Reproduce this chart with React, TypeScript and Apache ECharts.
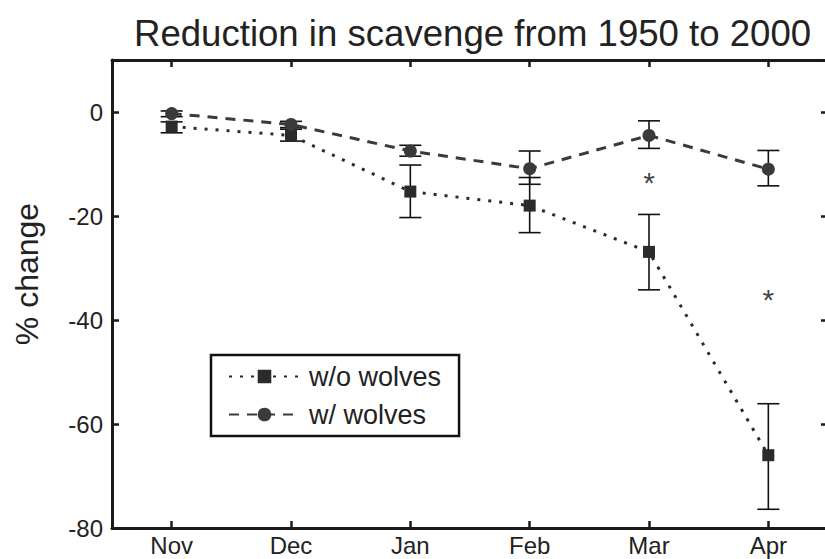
import React, { useEffect, useRef } from "react";
import * as echarts from "echarts";

const months = ["Nov", "Dec", "Jan", "Feb", "Mar", "Apr"];
const withoutWolves = [-2.8, -4.5, -15.3, -18.0, -26.9, -66.0];
const withoutLow = [-4.0, -5.6, -20.3, -23.2, -34.2, -76.4];
const withoutHigh = [-1.9, -3.3, -10.2, -12.6, -19.7, -56.1];
const withWolves = [-0.3, -2.4, -7.5, -10.9, -4.5, -11.0];
const withLow = [-0.9, -3.0, -8.5, -13.9, -7.0, -14.2];
const withHigh = [0.2, -1.8, -6.4, -7.5, -1.7, -7.4];
const yTicks = { min: -80, max: 10, interval: 20 };
const asterisks = [
  [4, -13],
  [5, -35.5],
];

const FONT = "'Liberation Sans', Arial, Helvetica, sans-serif";
const INK = "#222";

export default function App() {
  const ref = useRef<HTMLDivElement>(null);
  useEffect(() => {
    if (!ref.current) return;
    const chart = echarts.init(ref.current, undefined, { renderer: "svg" });
    const errData = (low: number[], high: number[]) =>
      low.map((l, i) => [i, l, high[i]]);
    const errRender = (params: any, api: any) => {
      const x = api.value(0);
      const lo = api.coord([x, api.value(1)]);
      const hi = api.coord([x, api.value(2)]);
      const hw = 11;
      const style = { stroke: "#111", lineWidth: 1.6 };
      return {
        type: "group",
        children: [
          { type: "line", shape: { x1: lo[0], y1: lo[1], x2: hi[0], y2: hi[1] }, style },
          { type: "line", shape: { x1: lo[0] - hw, y1: lo[1], x2: lo[0] + hw, y2: lo[1] }, style },
          { type: "line", shape: { x1: hi[0] - hw, y1: hi[1], x2: hi[0] + hw, y2: hi[1] }, style },
        ],
      };
    };
    const axisLine = { show: true, onZero: false, lineStyle: { color: "#1a1a1a", width: 3 } };
    const axisTick = { show: true, inside: true, length: 7, lineStyle: { color: "#1a1a1a", width: 2.5 } };
    chart.setOption({
      animation: false,
      backgroundColor: "#fff",
      title: {
        text: "Reduction in scavenge from 1950 to 2000",
        left: 129,
        top: 10,
        textStyle: { fontFamily: FONT, fontSize: 36.6, fontWeight: "normal", color: INK },
      },
      grid: { left: 112, width: 716, top: 60, bottom: 31, outerBoundsMode: "none", containLabel: false },
      legend: {
        data: ["w/o wolves", "w/ wolves"],
        orient: "vertical",
        left: 211,
        top: 355,
        itemWidth: 71,
        itemHeight: 17,
        itemGap: 9,
        padding: [7, 18, 7, 17],
        borderColor: "#111",
        borderWidth: 2.5,
        textStyle: {
          fontFamily: FONT,
          fontSize: 27,
          color: INK,
          lineHeight: 29,
          padding: [0, 0, 0, 4],
        },
      },
      xAxis: [
        {
          type: "category",
          data: months,
          boundaryGap: true,
          axisLine,
          axisTick: { ...axisTick, alignWithLabel: true },
          axisLabel: { fontFamily: FONT, fontSize: 24, color: INK, margin: 5 },
          splitLine: { show: false },
        },
        {
          type: "category",
          data: months,
          position: "top",
          boundaryGap: true,
          axisLine,
          axisTick: { ...axisTick, alignWithLabel: true },
          axisLabel: { show: false },
          splitLine: { show: false },
        },
      ],
      yAxis: [
        {
          type: "value",
          ...yTicks,
          axisLine,
          axisTick,
          axisLabel: { fontFamily: FONT, fontSize: 24, color: INK, margin: 9, showMaxLabel: false },
          splitLine: { show: false },
        },
        {
          type: "value",
          position: "right",
          ...yTicks,
          axisLine,
          axisTick,
          axisLabel: { show: false },
          splitLine: { show: false },
        },
      ],
      graphic: [
        {
          type: "text",
          x: 27,
          y: 274,
          rotation: Math.PI / 2,
          style: {
            text: "% change",
            font: `32px ${FONT}`,
            fill: INK,
            align: "center",
            verticalAlign: "middle",
          },
        },
      ],
      series: [
        {
          type: "custom",
          name: "err1",
          renderItem: errRender,
          data: errData(withoutLow, withoutHigh),
          z: 3,
        },
        {
          type: "custom",
          name: "err2",
          renderItem: errRender,
          data: errData(withLow, withHigh),
          z: 3,
        },
        {
          type: "line",
          name: "w/o wolves",
          data: withoutWolves,
          symbol: "rect",
          symbolSize: 12,
          itemStyle: { color: "#2b2b2b" },
          lineStyle: { color: "#2b2b2b", width: 3, type: [3, 8] },
          z: 4,
        },
        {
          type: "line",
          name: "w/ wolves",
          data: withWolves,
          symbol: "circle",
          symbolSize: 13,
          itemStyle: { color: "#3a3a3a" },
          lineStyle: { color: "#3a3a3a", width: 3, type: [10, 8] },
          z: 4,
        },
        {
          type: "scatter",
          name: "sig",
          data: asterisks,
          symbolSize: 0,
          label: {
            show: true,
            formatter: "*",
            position: "inside",
            offset: [0, 3],
            fontFamily: FONT,
            fontSize: 30,
            color: "#111",
          },
          z: 5,
        },
      ],
    });
    return () => chart.dispose();
  }, []);
  return (
    <div
      ref={ref}
      style={{ position: "fixed", left: 0, top: 0, width: 825, height: 559, background: "#fff" }}
    />
  );
}
